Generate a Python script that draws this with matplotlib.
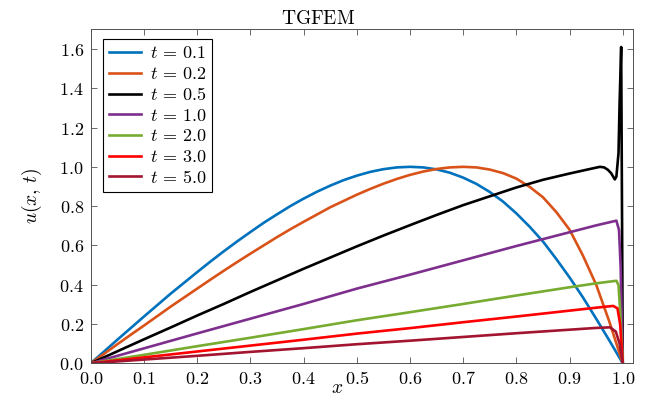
import numpy as np
import matplotlib
matplotlib.use("Agg")
import matplotlib.pyplot as plt
from matplotlib.ticker import FormatStrFormatter

plt.rcParams['mathtext.fontset'] = 'cm'
plt.rcParams['font.family'] = ['DejaVu Serif']

# u(x, t) profiles at the saved time levels
x_01 = [0, .025, .05, .075, .1, .125, .15, .175, .2, .225, .25, .275, .3, .325, .35, .375, .4, .425,
        .45, .475, .5, .525, .55, .575, .6, .625, .65, .675, .7, .725, .75, .775, .8, .825, .85,
        .875, .9, .925, .95, .975, 1.0]
u_01 = [0, .06, .12, .179, .238, .296, .354, .409, .464, .518, .57, .62, .668, .715, .758, .80, .838, .873,
        .904, .932, .955, .974, .988, .997, 1.0, .997, .987, .970, .945, .913, .872, .823, .763, .695, .62,
        .531, .437, .336, .227, .115, 0]

x_02 = [0, .025, .05, .075, .1, .125, .15, .175, .2, .225, .25, .275, .3, .325, .35, .375, .4, .425,
        .45, .475, .5, .525, .55, .575, .6, .625, .65, .675, .7, .725, .75, .775, .8, .825, .85,
        .875, .9, .925, .95, .975, 1.0]
u_02 = [0, .048, .097, .145, .192, .24, .288, .334, .38, .426, .471, .515, .558, .60, .642, .682, .72, .757,
        .794, .826, .858, .887, .914, .938, .959, .976, .989, .997, 1.0, .997, .986, .968, .94, .898, .845,
        .77, .68, .549, .40, .21, 0]

x_05 = [0, .05, .1, .15, .2, .25, .3, .35, .4, .45, .5, .55, .6, .65, .7, .75, .8, .85, .9, .94,
        .957, .965, .972, .978, .982, .985, .988, .992, .994, .997, 1.0]
u_05 = [0, .061, .122, .182, .243, .302, .363, .422, .481, .538, .595, .65, .703, .755, .805, .85, .895, .934, .966, .99,
        1.0, .997, .985, .968, .95, .936, .95, 1.07, 1.32, 1.61, 0]

x_10 = [0, .1, .2, .3, .4, .5, .6, .7, .8, .9, .95, .988, .993, .996, 1.0]
u_10 = [0, .076, .152, .227, .302, .38, .451, .524, .597, .667, .702, .726, .678, .49, 0]

x_20 = [0, .1, .2, .3, .4, .5, .6, .7, .8, .9, .95, .988, .992, .995, 1.0]
u_20 = [0, .043, .087, .13, .174, .219, .26, .302, .345, .387, .407, .42, .398, .27, 0]

x_30 = [0, .1, .2, .3, .4, .5, .6, .7, .8, .9, .95, .982, .99, .995, 1.0]
u_30 = [0, .03, .06, .09, .12, .151, .179, .209, .238, .268, .283, .292, .28, .2, 0]

x_50 = [0, .1, .2, .3, .4, .5, .6, .7, .8, .9, .95, .976, .987, .994, 1.0]
u_50 = [0, .019, .038, .058, .077, .097, .115, .134, .153, .171, .18, .183, .161, .10, 0]

labels = [r'$t\,=\,0.1$', r'$t\,=\,0.2$', r'$t\,=\,0.5$', r'$t\,=\,1.0$',
          r'$t\,=\,2.0$', r'$t\,=\,3.0$', r'$t\,=\,5.0$']
colors = ['#0072BD', '#D95319', '#000000', '#7E2F8E', '#77AC30', '#FF0000', '#A2142F']


def plot_tgfem():
    fig = plt.figure(figsize=(6.53, 3.96), dpi=100)
    ax = fig.add_axes([0.139, 0.0826, 0.831, 0.8434])

    series = [(x_01, u_01), (x_02, u_02), (x_05, u_05), (x_10, u_10),
              (x_20, u_20), (x_30, u_30), (x_50, u_50)]
    for (x, u), lab, c in zip(series, labels, colors):
        ax.plot(x, u, color=c, linewidth=1.9, label=lab, solid_joinstyle='round')

    ax.set_xlim(0, 1.02)
    ax.set_ylim(0, 1.7)
    ax.set_xticks(np.arange(0, 1.01, 0.1))
    ax.set_yticks(np.arange(0, 1.61, 0.2))
    ax.xaxis.set_major_formatter(FormatStrFormatter('$%.1f$'))
    ax.yaxis.set_major_formatter(FormatStrFormatter('$%.1f$'))

    ax.tick_params(direction='in', top=True, right=True, length=4, width=0.6,
                   color='#505050', labelsize=13, pad=5)
    for s in ax.spines.values():
        s.set_color('#505050')
        s.set_linewidth(0.7)

    ax.set_title(r'$\mathrm{TGFEM}$', fontsize=14, x=0.419, pad=4)
    ax.set_xlabel('$x$', fontsize=14, labelpad=0)
    ax.xaxis.set_label_coords(0.454, -0.047)
    ax.set_ylabel(r'$u(x,\,t)$', fontsize=14, labelpad=11)

    leg = ax.legend(loc='upper left', bbox_to_anchor=(0.0227, 0.971), fontsize=13,
                    frameon=True, fancybox=False, edgecolor='black', framealpha=1,
                    handlelength=1.8, handletextpad=0.5, labelspacing=0.15,
                    borderpad=0.3, borderaxespad=0)
    leg.get_frame().set_linewidth(0.8)

    plt.savefig("out.png", dpi=100)


plot_tgfem()
